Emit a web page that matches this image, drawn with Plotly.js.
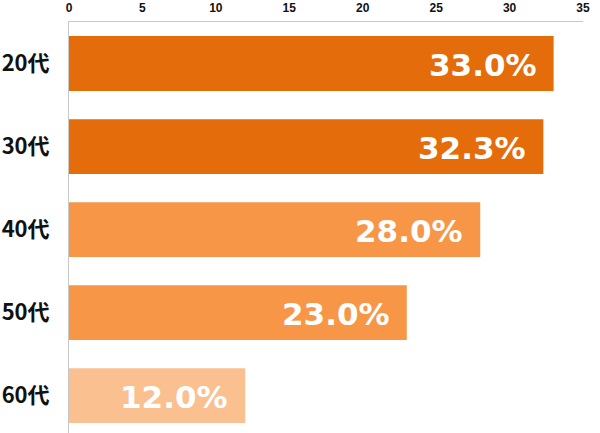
<!DOCTYPE html>
<html><head><meta charset="utf-8">
<script src="https://cdn.plot.ly/plotly-3.0.1.min.js"></script>
<style>html,body{margin:0;padding:0;background:#fff}#c{width:600px;height:433px}</style>
</head><body><div id="c"></div>
<script>
const categories = ["20代","30代","40代","50代","60代"];
const values = [33.0, 32.3, 28.0, 23.0, 12.0];
const labels = ["33.0%","32.3%","28.0%","23.0%","12.0%"];
const colors = ["#E46C0A","#E46C0A","#F79646","#F79646","#FAC090"];
const xTicks = [0,5,10,15,20,25,30,35];

const trace = {
  type: "bar", orientation: "h",
  y: categories, x: values,
  marker: {color: colors, line: {width: 0}},
  width: 0.66,
  hoverinfo: "none"
};
const annotations = values.map((v,i)=>({
  x: v, y: categories[i], xref: "x", yref: "y",
  text: labels[i], showarrow: false, xanchor: "right", yanchor: "middle",
  xshift: -15, yshift: -1,
  font: {family: "DejaVu Sans", size: 31, color: "#ffffff", weight: "bold"}
}));
const layout = {
  width: 600, height: 433,
  margin: {l: 69, r: 17, t: 22, b: 0},
  paper_bgcolor: "#fff", plot_bgcolor: "#fff",
  showlegend: false,
  bargap: 0.34,
  xaxis: {
    side: "top", range: [0, 35], tickvals: xTicks, ticktext: xTicks.map(String),
    showgrid: false, zeroline: false, showline: true, linecolor: "#c8c8c8", linewidth: 1,
    ticks: "", ticklabelstandoff: 4,
    tickfont: {family: "Liberation Sans", size: 12, color: "#111", weight: "bold"}
  },
  yaxis: {
    type: "category", range: [4.45, -0.5], autorange: false,
    showgrid: false, zeroline: false, showline: true, linecolor: "#c8c8c8", linewidth: 1,
    ticks: "", ticklabelstandoff: 14,
    tickfont: {family: "Noto Sans CJK JP", size: 22, color: "#111", weight: "bold"}
  },
  annotations: annotations
};
Plotly.newPlot("c", [trace], layout, {staticPlot: true, displayModeBar: false});
</script></body></html>
